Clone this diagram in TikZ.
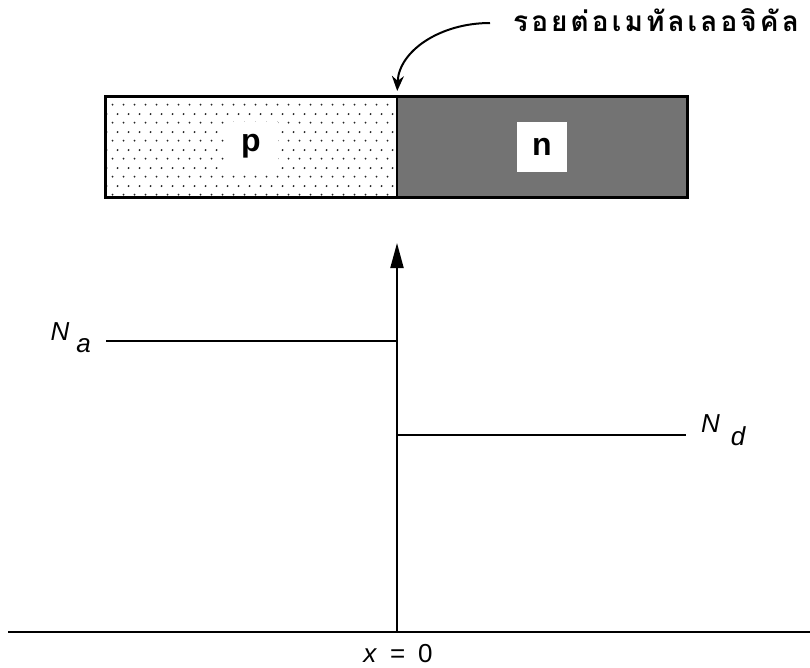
\documentclass[tikz,border=0pt]{standalone}
\usepackage{fontspec}
\setmainfont{Liberation Sans}
\newfontfamily\thaifont[Script=Thai,LetterSpace=11]{Loma}
\usetikzlibrary{arrows.meta,patterns.meta,positioning}

\tikzdeclarepattern{
  name=pdots,
  type=uncolored,
  bottom left={(0pt,0pt)},
  top right={(11pt,18pt)},
  tile size={(11pt,18pt)},
  code={
    \fill (2.75pt,4.5pt) circle (1.1pt);
    \fill (8.25pt,13.5pt) circle (1.1pt);
  }
}

\tikzset{
  region/.style={minimum width=292pt, minimum height=101pt, inner sep=0pt, outer sep=0pt},
  tag/.style={fill=white, font=\bfseries\fontsize{32}{32}\selectfont, minimum width=54pt, minimum height=50pt, inner sep=0pt},
  level/.style={line width=2pt},
  lbl/.style={font=\itshape\fontsize{26}{26}\selectfont, inner sep=0pt},
}

\begin{document}
\begin{tikzpicture}[x=1pt, y=-1pt, >=Stealth]
    \useasboundingbox (0,0) rectangle (810,667);

    % the junction bar
    \node[region, pattern={pdots}, pattern color=black!85] (pside) at (251,146.5) {};
    \node[region, minimum width=290pt, fill=black!55, right=0pt of pside] (nside) {};
    \draw[line width=3pt] (pside.north west) rectangle (nside.south east);
    \draw[line width=2pt] (pside.north east) -- (pside.south east);
    \node[tag] (ptag) at (pside.center) {p};
    \node[tag, minimum width=50pt] (ntag) at (nside.center) {n};
    \coordinate (junc) at (pside.north east);

    \node[anchor=base west, inner sep=0pt, font=\thaifont\bfseries\fontsize{28}{28}\selectfont] (junclbl) at (513,31) {รอยต่อเมทัลเลอจิคัล};
    \coordinate (arrstart) at (490,23);
    \draw[-{Stealth[length=15pt,width=12pt]}, line width=2pt, shorten >=5pt]
        (arrstart) .. controls +(-50,0) and +(2,-45) .. (junc);

    % axes
    \coordinate (origin) at (397,632);
    \coordinate (axtop) at (397,243);
    \coordinate (xleft) at (8,632);
    \coordinate (xright) at (810,632);
    \draw[line width=1.6pt] (xleft) -- (xright);
    \draw[line width=2pt, -{Triangle[length=25pt,width=13pt]}] (origin) -- (axtop);

    % doping levels
    \coordinate (nastart) at (106,341);
    \coordinate (ndend) at (686,435);
    \draw[level] (nastart) -- (nastart -| origin);
    \draw[level] (ndend -| origin) -- (ndend);

    \node[lbl, anchor=base east] (nalbl) at (91,340) {N\hspace{7pt}\raisebox{-12pt}{a}};
    \node[lbl, anchor=base west] (ndlbl) at (701,432) {N\hspace{11pt}\raisebox{-13pt}{d}};
    \node[anchor=base, inner sep=0pt, font=\fontsize{26}{26}\selectfont] (xlbl) at (398,662) {\textit{x}\hspace{13pt}=\hspace{13pt}0};
\end{tikzpicture}
\end{document}
